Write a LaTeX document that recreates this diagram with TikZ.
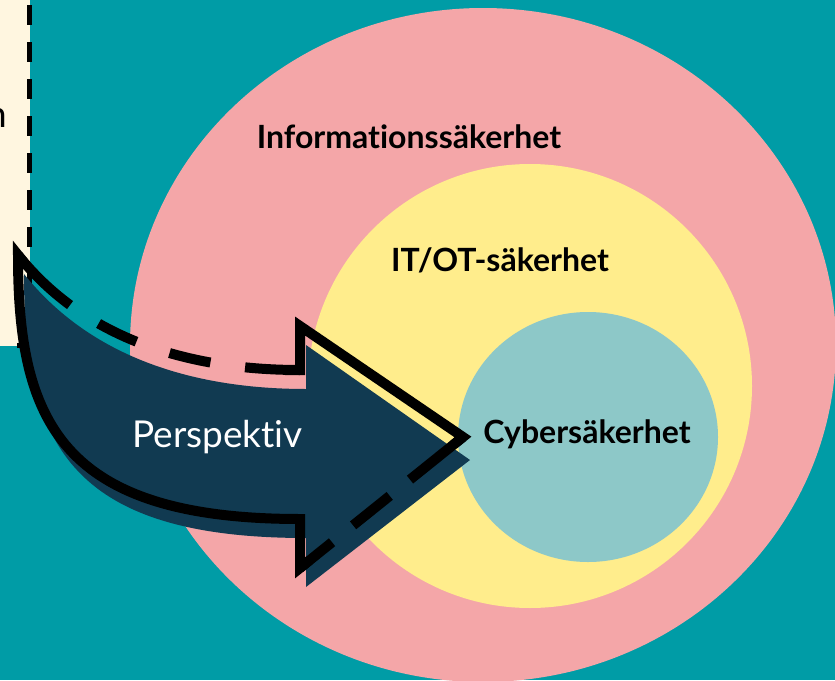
\documentclass[tikz,border=0pt]{standalone}
\usepackage{fontspec}
\setmainfont{Lato}[Ligatures={NoCommon}]
\usetikzlibrary{calc}

\definecolor{sea}{HTML}{009CA6}
\definecolor{rosa}{HTML}{F4A6A8}
\definecolor{sol}{HTML}{FFED8C}
\definecolor{mint}{HTML}{8DC8C8}
\definecolor{natt}{HTML}{113A51}
\definecolor{creme}{HTML}{FFF6E0}

\begin{document}
\begin{tikzpicture}[x=1pt,y=-1pt,
  lab/.style={font=\fontsize{32}{38}\selectfont\bfseries, text=black, inner sep=0pt, anchor=base},
  bigtext/.style={font=\fontsize{37}{44}\selectfont, inner sep=0pt},
  outl/.style={line width=10pt, draw=black, line join=miter, miter limit=10},
]
\useasboundingbox (0,0) rectangle (835,680);
\clip (0,0) rectangle (835,680);
\fill[sea] (0,0) rectangle (835,680);

% side panel on the left
\fill[creme] (-10,-10) rectangle (29.5,345.5);
\node[bigtext, text=black, anchor=base east] (tailtext) at (7,127) {n};
\draw[line width=5pt, dash pattern=on 20pt off 17pt] (29.5,5) -- (29.5,345.5) -- (-10,345.5);

% nested areas
\fill[rosa] (483,345) ellipse [x radius=353pt, y radius=337pt];
\fill[sol] (530,386) circle [radius=222pt];
\fill[mint] (588,437) ellipse [x radius=130pt, y radius=125pt];

\node[lab] (info) at (409,148) {Informationssäkerhet};
\node[lab] (itot) at (500,271) {IT/OT-säkerhet};
\node[lab] (cyber) at (587,443) {Cybersäkerhet};

% curved arrow: filled body
\fill[natt] (24,274) .. controls (96,364) and (206,389) .. (306,389)
  -- (306,345) -- (470,460) -- (306,587) -- (306,538)
  .. controls (66,538) and (24,439) .. (24,274) -- cycle;

% curved arrow: outline, partly dashed
\coordinate (T) at (18,255);
\coordinate (A1) at (300,370);
\coordinate (B1) at (300,326);
\coordinate (P) at (463,437);
\coordinate (B2) at (300,568);
\coordinate (A2) at (300,519);

\draw[outl, dash pattern=on 55pt off 35pt on 42pt off 35pt on 42pt off 34pt on 200pt]
  (A1) .. controls (200,370) and (90,345) .. (T);
\draw[outl, dash pattern=on 68pt off 26pt on 47pt off 27pt on 100pt] (P) -- (B2);
\draw[outl] (285,370) -- (A1) -- (B1) -- (P) -- ($(P)!12pt!(B2)$);
\draw[outl] ($(B2)!12pt!(P)$) -- (B2) -- (A2)
  .. controls (60,519) and (18,420) .. (T) -- ($(T)!10pt!(90,345)$);

\node[bigtext, text=white, anchor=base] (persp) at (217.5,447) {Perspektiv};
\end{tikzpicture}
\end{document}
